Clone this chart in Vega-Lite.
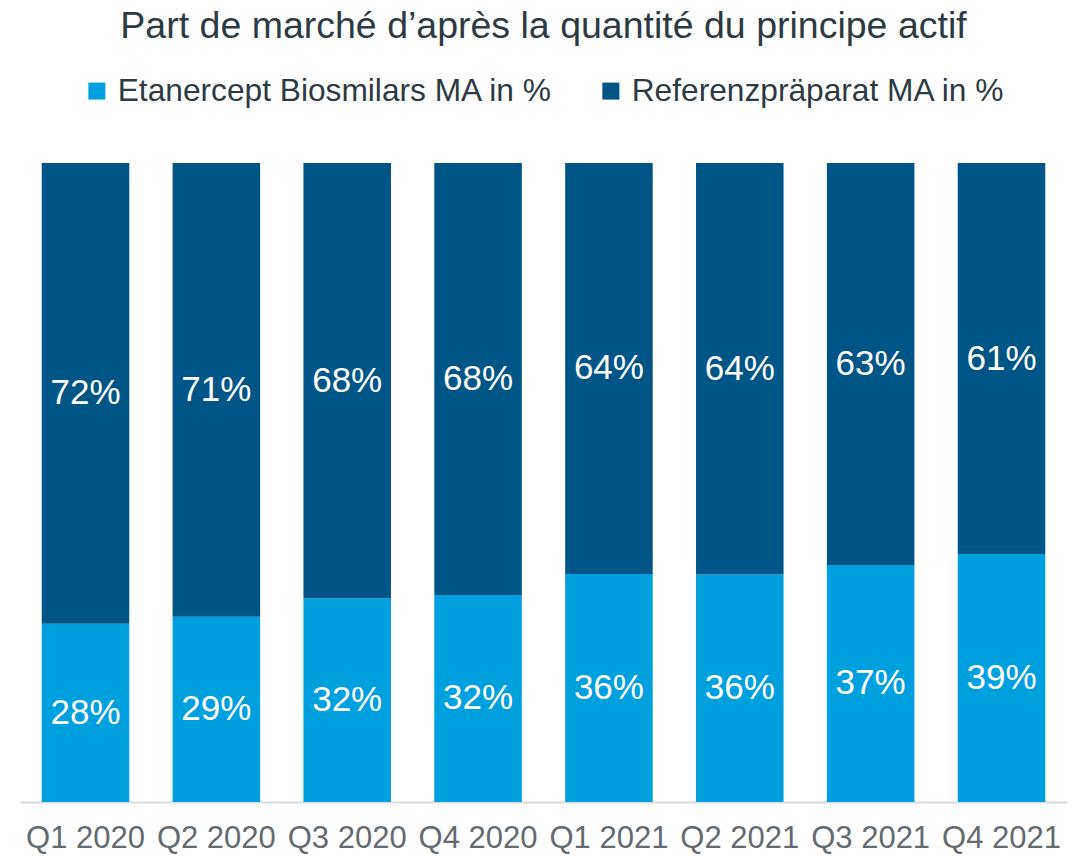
{
  "$schema": "https://vega.github.io/schema/vega-lite/v6.json",
  "width": 1047,
  "height": 639,
  "autosize": {"type": "none"},
  "padding": {"left": 20, "top": 163, "right": 17, "bottom": 54},
  "background": "white",
  "config": {"view": {"stroke": null}},
  "title": {
    "text": "Part de marché d’après la quantité du principe actif",
    "font": "Liberation Sans",
    "fontSize": 37.5,
    "fontWeight": "normal",
    "color": "#2d3a42",
    "anchor": "middle",
    "offset": 30
  },
  "data": {
    "values": [
      {"quarter": "Q1 2020", "series": "Etanercept Biosmilars MA in %", "order": 1, "value": 0.279},
      {"quarter": "Q1 2020", "series": "Referenzpräparat MA in %", "order": 2, "value": 0.721},
      {"quarter": "Q2 2020", "series": "Etanercept Biosmilars MA in %", "order": 1, "value": 0.29},
      {"quarter": "Q2 2020", "series": "Referenzpräparat MA in %", "order": 2, "value": 0.71},
      {"quarter": "Q3 2020", "series": "Etanercept Biosmilars MA in %", "order": 1, "value": 0.319},
      {"quarter": "Q3 2020", "series": "Referenzpräparat MA in %", "order": 2, "value": 0.681},
      {"quarter": "Q4 2020", "series": "Etanercept Biosmilars MA in %", "order": 1, "value": 0.324},
      {"quarter": "Q4 2020", "series": "Referenzpräparat MA in %", "order": 2, "value": 0.676},
      {"quarter": "Q1 2021", "series": "Etanercept Biosmilars MA in %", "order": 1, "value": 0.357},
      {"quarter": "Q1 2021", "series": "Referenzpräparat MA in %", "order": 2, "value": 0.643},
      {"quarter": "Q2 2021", "series": "Etanercept Biosmilars MA in %", "order": 1, "value": 0.356},
      {"quarter": "Q2 2021", "series": "Referenzpräparat MA in %", "order": 2, "value": 0.644},
      {"quarter": "Q3 2021", "series": "Etanercept Biosmilars MA in %", "order": 1, "value": 0.371},
      {"quarter": "Q3 2021", "series": "Referenzpräparat MA in %", "order": 2, "value": 0.629},
      {"quarter": "Q4 2021", "series": "Etanercept Biosmilars MA in %", "order": 1, "value": 0.388},
      {"quarter": "Q4 2021", "series": "Referenzpräparat MA in %", "order": 2, "value": 0.612}
    ]
  },
  "transform": [
    {"stack": "value", "groupby": ["quarter"], "sort": [{"field": "order"}], "as": ["v0", "v1"]},
    {"calculate": "(datum.v0 + datum.v1) / 2", "as": "mid"}
  ],
  "encoding": {
    "x": {
      "field": "quarter",
      "type": "ordinal",
      "sort": null,
      "scale": {"paddingInner": 0.331, "paddingOuter": 0.166},
      "axis": {
        "title": null,
        "labelAngle": 0,
        "labelFont": "Liberation Sans",
        "labelFontSize": 31,
        "labelColor": "#636b70",
        "labelPadding": 21,
        "ticks": false,
        "domainColor": "#dadde0",
        "domainWidth": 2,
        "grid": false
      }
    }
  },
  "layer": [
    {
      "mark": {"type": "bar"},
      "encoding": {
        "y": {"field": "v0", "type": "quantitative", "scale": {"domain": [0, 1]}, "axis": null},
        "y2": {"field": "v1"},
        "color": {
          "field": "series",
          "type": "nominal",
          "scale": {"domain": ["Etanercept Biosmilars MA in %", "Referenzpräparat MA in %"], "range": ["#00a0df", "#005587"]},
          "legend": {
            "title": null,
            "orient": "none",
            "direction": "horizontal",
            "legendX": 61,
            "legendY": -88,
            "symbolType": "square",
            "symbolSize": 289,
            "symbolStrokeWidth": 0,
            "symbolOpacity": 1,
            "labelFont": "Liberation Sans",
            "labelFontSize": 31.7,
            "labelColor": "#2d3a42",
            "labelOffset": 5,
            "labelLimit": 600,
            "columnPadding": 42
          }
        }
      }
    },
    {
      "mark": {"type": "text", "font": "Liberation Sans", "fontSize": 35, "color": "white", "baseline": "middle", "align": "center"},
      "encoding": {
        "y": {"field": "mid", "type": "quantitative", "scale": {"domain": [0, 1]}},
        "text": {"field": "value", "type": "quantitative", "format": ".0%"}
      }
    }
  ]
}
